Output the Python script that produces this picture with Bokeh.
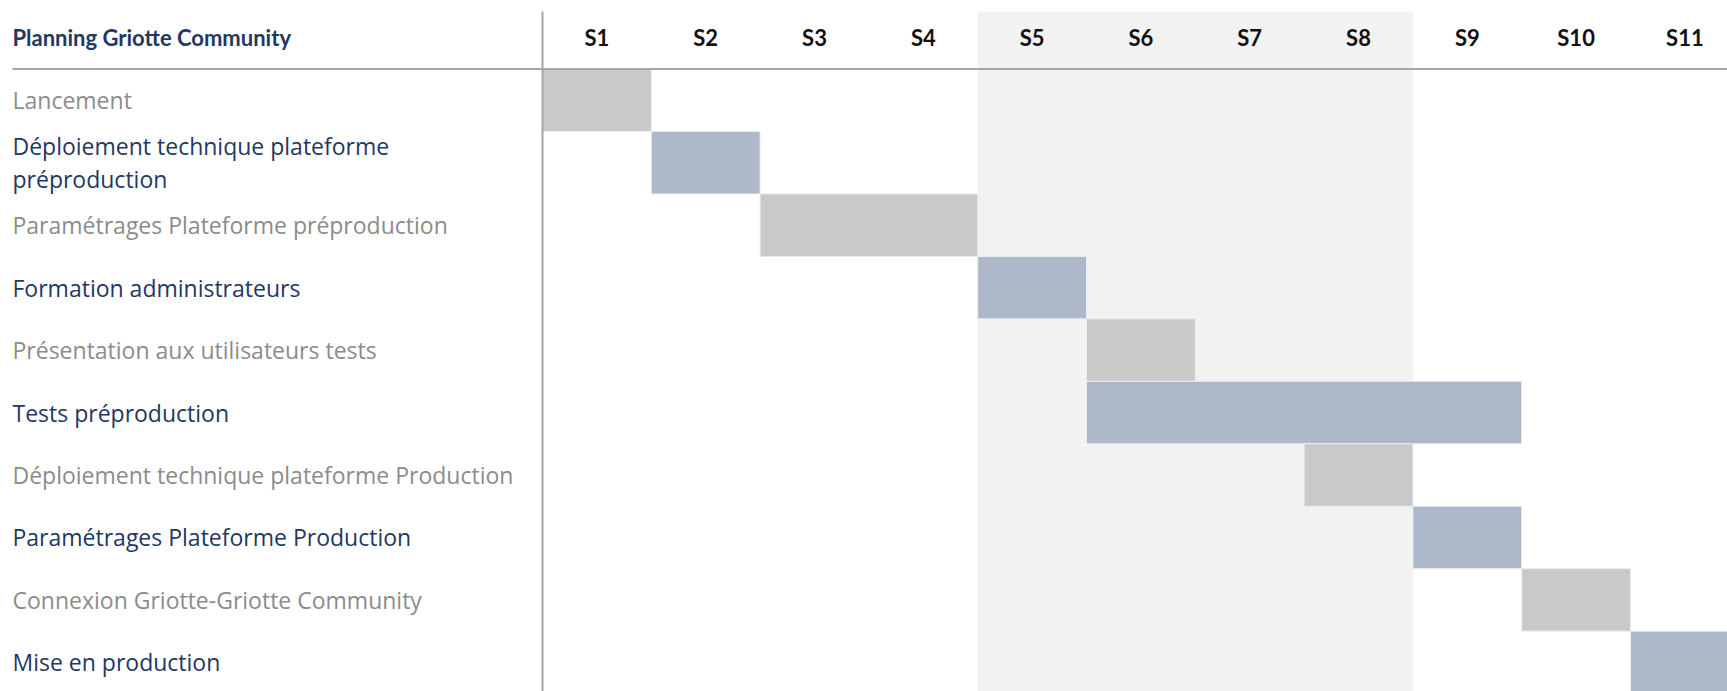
from bokeh.plotting import figure
from bokeh.models import Range1d, ColumnDataSource
from bokeh.core.properties import value
from bokeh.embed import file_html
from bokeh.resources import INLINE

# ---------------- data ----------------
title = "Planning Griotte Community"
weeks = ["S1", "S2", "S3", "S4", "S5", "S6", "S7", "S8", "S9", "S10", "S11"]
tasks = [
    "Lancement",
    "Déploiement technique plateforme\npréproduction",
    "Paramétrages Plateforme préproduction",
    "Formation administrateurs",
    "Présentation aux utilisateurs tests",
    "Tests préproduction",
    "Déploiement technique plateforme Production",
    "Paramétrages Plateforme Production",
    "Connexion Griotte-Griotte Community",
    "Mise en production",
]
start_week = [1, 2, 3, 5, 6, 6, 8, 9, 10, 11]
end_week = [1, 2, 4, 5, 6, 9, 8, 9, 10, 11]
highlight_weeks = ("S5", "S8")

# ---------------- styles ----------------
GRAY_BAR = "#c9c9c9"
BLUE_BAR = "#adb9ca"
GRAY_TXT = "#8c8c8c"
NAVY_TXT = "#1f3864"
SHADE = "#f2f2f2"
RULE = "#a6a6a6"

W, H = 1727, 691
COL_PX = 108.8
ROW_PX = 62.46
X0_PX = 542      # left of S1 column, in pixels
Y0_PX = 68.5     # top of first task row, in pixels

x_left = -X0_PX / COL_PX
x_right = (W - X0_PX) / COL_PX
y_top = -Y0_PX / ROW_PX
y_bottom = (H - Y0_PX) / ROW_PX

p = figure(width=W, height=H, x_range=Range1d(x_left, x_right),
           y_range=Range1d(y_bottom, y_top), output_backend="svg",
           toolbar_location=None, min_border=0)
p.axis.visible = False
p.grid.visible = False
p.outline_line_color = None
p.background_fill_color = "white"
p.border_fill_color = "white"

n = len(tasks)
rule_top = (11 - Y0_PX) / ROW_PX
header_mid = (37 - Y0_PX) / ROW_PX
label_x = (12 - X0_PX) / COL_PX

# highlight band S5..S8
h0 = weeks.index(highlight_weeks[0])
h1 = weeks.index(highlight_weeks[1]) + 1
p.quad(left=[h0], right=[h1], top=[rule_top], bottom=[n + 1],
       fill_color=SHADE, line_color=None)

# bars
bar_src = ColumnDataSource(dict(
    left=[s - 1 for s in start_week],
    right=end_week,
    top=list(range(n)),
    bottom=[i + 1 for i in range(n)],
    color=[GRAY_BAR if i % 2 == 0 else BLUE_BAR for i in range(n)],
))
p.quad(left="left", right="right", top="top", bottom="bottom", source=bar_src,
       fill_color="color", line_color="#ededed", line_width=1)

# rules
p.segment(x0=[label_x], x1=[len(weeks) + 1], y0=[0], y1=[0],
          line_color=RULE, line_width=2)
p.segment(x0=[0], x1=[0], y0=[rule_top], y1=[n + 1],
          line_color=RULE, line_width=2)

# header texts
p.text(x=[label_x], y=[header_mid], text=[title], text_font=value("Lato"),
       text_font_style="bold", text_font_size="22px", text_color=NAVY_TXT,
       text_baseline="middle", text_align="left")
p.text(x=[i + 0.5 for i in range(len(weeks))], y=[header_mid] * len(weeks),
       text=weeks, text_font=value("Lato"), text_font_style="bold",
       text_font_size="22px", text_color="#111111",
       text_baseline="middle", text_align="center")

# task labels
lab_src = ColumnDataSource(dict(
    x=[label_x] * n,
    y=[i + 0.5 for i in range(n)],
    text=tasks,
    color=[GRAY_TXT if i % 2 == 0 else NAVY_TXT for i in range(n)],
))
p.text(x="x", y="y", text="text", source=lab_src, text_font=value("Open Sans"),
       text_font_size="23px", text_color="color", text_baseline="middle",
       text_align="left", text_line_height=1.05)

open("out.html", "w").write(file_html(p, INLINE))
